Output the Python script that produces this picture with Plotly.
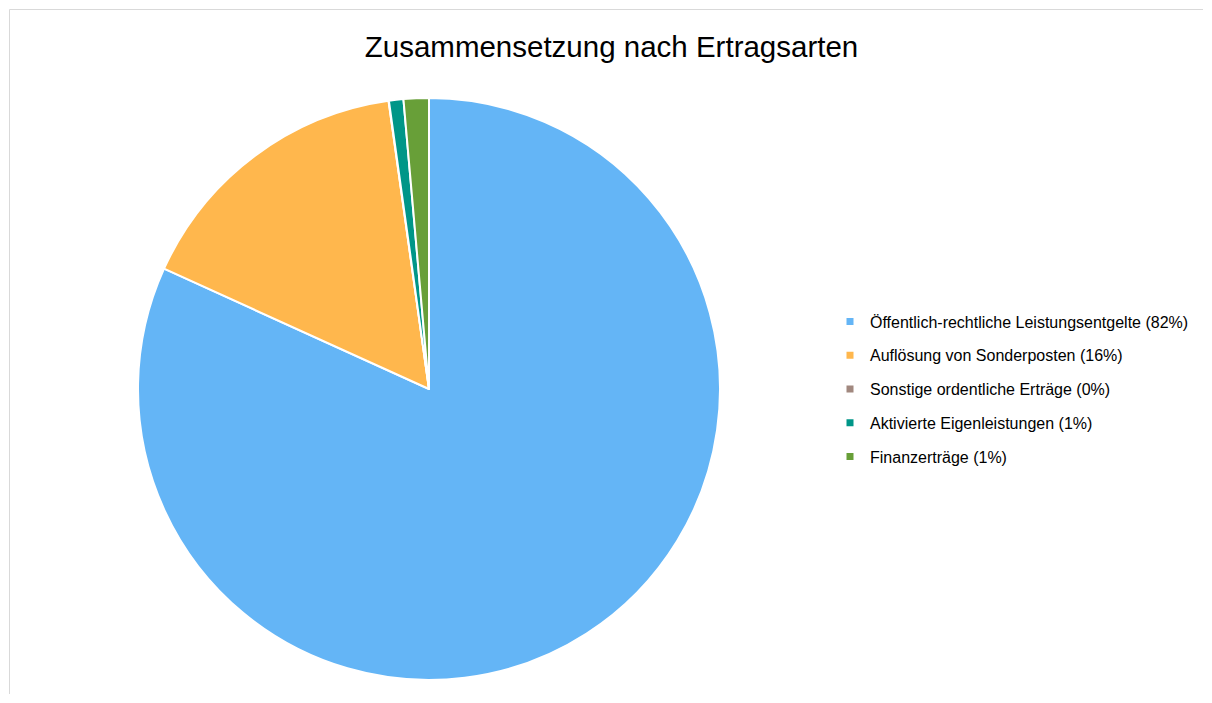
"""Zusammensetzung nach Ertragsarten - Kreisdiagramm"""

import plotly.graph_objects as go

categories = [
    "Öffentlich-rechtliche Leistungsentgelte",
    "Auflösung von Sonderposten",
    "Sonstige ordentliche Erträge",
    "Aktivierte Eigenleistungen",
    "Finanzerträge",
]
shares = [81.8, 16.0, 0.02, 0.8, 1.4]
legend_pct = ["82%", "16%", "0%", "1%", "1%"]
colors = ["#64B5F6", "#FFB74D", "#A1887F", "#009688", "#689F38"]

W, H = 1195, 686
FONT = "Liberation Sans, Arial, sans-serif"

fig = go.Figure()

fig.add_trace(go.Pie(
    labels=categories,
    values=shares,
    sort=False,
    direction="clockwise",
    rotation=0,
    textinfo="none",
    hoverinfo="label+percent",
    marker=dict(colors=colors, line=dict(color="white", width=2)),
    showlegend=False,
    domain=dict(x=[130 / W, 712 / W], y=[1 - 672 / H, 1 - 90 / H]),
))

# legend entries with square markers
for i, (name, pct, col) in enumerate(zip(categories, legend_pct, colors)):
    fig.add_trace(go.Scatter(
        x=[None], y=[None],
        mode="markers",
        marker=dict(symbol="square", size=7, color=col),
        name=f"{name} ({pct})",
        legendgroup=f"g{i}",
        hoverinfo="skip",
    ))

frame = dict(color="#D9D9D9", width=1)

fig.update_layout(
    width=W,
    height=H,
    margin=dict(l=0, r=0, t=0, b=0),
    paper_bgcolor="white",
    plot_bgcolor="white",
    font=dict(family=FONT, color="#000000"),
    title=dict(
        text="Zusammensetzung nach Ertragsarten",
        x=603.5 / W, xanchor="center",
        y=1 - 39 / H, yanchor="middle",
        font=dict(size=29.5, family=FONT, color="#000000"),
    ),
    xaxis=dict(visible=False),
    yaxis=dict(visible=False),
    legend=dict(
        x=822 / W, xanchor="left",
        y=1 - 381 / H, yanchor="middle",
        font=dict(size=16, family=FONT, color="#000000"),
        tracegroupgap=10,
        bgcolor="rgba(0,0,0,0)",
    ),
    shapes=[
        dict(type="line", xref="paper", yref="paper",
             x0=1.5 / W, x1=1.2, y0=1 - 1.5 / H, y1=1 - 1.5 / H, line=frame),
        dict(type="line", xref="paper", yref="paper",
             x0=1.5 / W, x1=1.5 / W, y0=-0.2, y1=1 - 1.5 / H, line=frame),
    ],
)

fig.write_html("out.html")
